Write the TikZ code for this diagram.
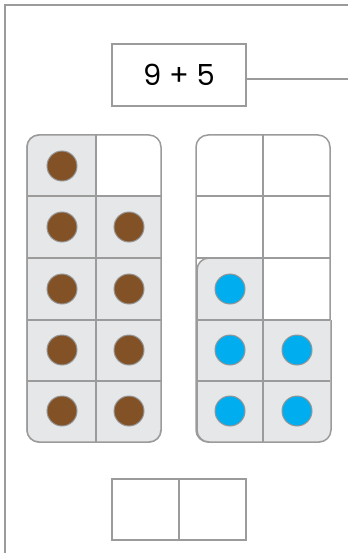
\documentclass[tikz,border=0pt]{standalone}
\usepackage{fontspec}
\newfontfamily\sumfont{Poppins}
\usetikzlibrary{positioning}

\begin{document}
\begin{tikzpicture}[x=1pt, y=-1pt, line width=1.5pt,
  frameline/.style={draw=linegray},
  numbox/.style={draw=linegray, fill=white, minimum width=134pt, minimum height=62pt, inner sep=0pt},
  digitbox/.style={draw=linegray, fill=white, minimum width=67pt, minimum height=61pt, inner sep=0pt},
  counter/.style={fill=cellgray, draw=linegray, rounded corners=12pt},
  brown dot/.style={fill=dotbrown, draw=dotrim, line width=1pt},
  blue dot/.style={fill=dotblue, draw=dotrim, line width=1pt}]

  % Colors
  \definecolor{linegray}{RGB}{155,155,155}
  \definecolor{cellgray}{RGB}{230,231,233}
  \definecolor{dotbrown}{RGB}{130,82,38}
  \definecolor{dotblue}{RGB}{0,174,239}
  \definecolor{dotrim}{RGB}{150,150,150}

  \useasboundingbox (0,0) rectangle (348,553);

  % Page edge
  \draw[frameline, line width=2pt] (5,553) -- (5,5) -- (348,5);

  % Sum box and its line to the edge
  \node[numbox] (sum) at (179,75) {\sumfont\fontsize{29}{32}\selectfont 9 + 5};
  \coordinate (edge) at (348,79);
  \draw[frameline] (sum.east |- edge) -- (edge);

  % Left ten-frame (nine)
  \filldraw[fill=white, frameline, rounded corners=12pt] (27,135) rectangle (161,442);
  \begin{scope}
    \clip (20,128) rectangle (96,196) (20,196) rectangle (168,449);
    \filldraw[counter] (27,135) rectangle (161,442);
  \end{scope}
  \draw[frameline] (96,135) -- (96,442);
  \foreach \y in {196,258,320,381}
    \draw[frameline] (27,\y) -- (161,\y);
  \foreach \x/\y in {62/166, 62/227, 129/227, 62/289, 129/289, 62/350, 129/350, 62/411, 129/411}
    \filldraw[brown dot] (\x,\y) circle (15pt);

  % Right ten-frame (five)
  \filldraw[fill=white, frameline, rounded corners=12pt] (196,135) rectangle (330,442);
  \begin{scope}
    \clip (189,251) rectangle (263,320) (189,320) rectangle (337,449);
    \filldraw[counter] (197,258) rectangle (331,442);
  \end{scope}
  \draw[frameline] (263,135) -- (263,442);
  \foreach \y in {196,258,320,381}
    \draw[frameline] (196,\y) -- (330,\y);
  \foreach \x/\y in {230/289, 230/350, 297/350, 230/411, 297/411}
    \filldraw[blue dot] (\x,\y) circle (15pt);

  % Answer boxes
  \node[digitbox] (tens) at (145.5,509.5) {};
  \node[digitbox, right=-1.5pt of tens] (ones) {};

\end{tikzpicture}
\end{document}
